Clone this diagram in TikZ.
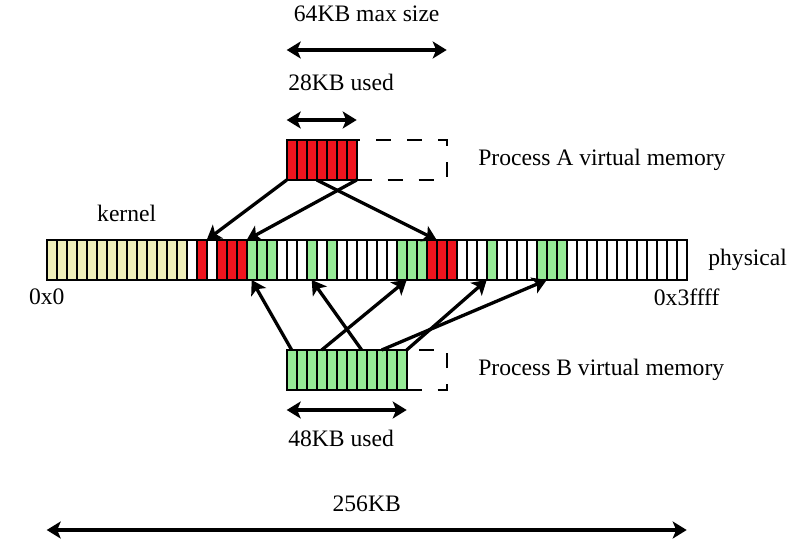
\documentclass[tikz,border=0pt]{standalone}
\usepackage{fontspec}
\setmainfont{Liberation Serif}
\usetikzlibrary{positioning,arrows.meta}
\definecolor{kernelyellow}{RGB}{240,240,185}
\definecolor{pagered}{RGB}{240,20,30}
\definecolor{pagegreen}{RGB}{150,235,150}

\begin{document}
\begin{tikzpicture}[x=1pt, y=-1pt, line width=3.3pt, >={Stealth[length=14pt,width=17pt,inset=3.5pt]},
    cell/.style={draw, line width=2.2pt, minimum width=10pt, minimum height=40pt, inner sep=0pt, outer sep=0pt, fill=white},
    freecell/.style={draw, line width=2.2pt, dash pattern=on 15pt off 16pt, minimum height=40pt, inner sep=0pt, outer sep=0pt},
    lbl/.style={inner sep=0pt, font=\fontsize{23.6}{28}\selectfont}]
    \useasboundingbox (0,0) rectangle (798,556);

    % physical memory: 64 pages of 4KB
    \foreach \i in {0,...,63}
        \node[cell] (p\i) at ({51.7+10*\i},260) {};
    \foreach \pages/\col in {{0,...,13}/kernelyellow, {15,17,18,19,38,39,40}/pagered, {20,21,22,26,28,35,36,37,44,49,50,51}/pagegreen}
        \foreach \i in \pages
            \draw[line width=2.2pt, fill=\col] (p\i.north west) rectangle (p\i.south east);

    % process A
    \node[cell, fill=pagered, above=60pt of p24] (a0) {};
    \foreach \i [remember=\i as \j (initially 0)] in {1,...,6}
        \node[cell, fill=pagered, right=0pt of a\j] (a\i) {};
    \node[freecell, minimum width=90pt, right=0pt of a6] (afree) {};

    % process B
    \node[cell, fill=pagegreen, below=70pt of p24] (b0) {};
    \foreach \i [remember=\i as \j (initially 0)] in {1,...,11}
        \node[cell, fill=pagegreen, right=0pt of b\j] (b\i) {};
    \node[freecell, minimum width=40pt, right=0pt of b11] (bfree) {};

    \node[lbl, right=30pt of afree] (procA) {Process A virtual memory};
    \node[lbl, right=30pt of bfree] (procB) {Process B virtual memory};
    \node[lbl, above=17pt of p7.north east] (kernel) {kernel};
    \node[lbl, right=20pt of p63] (physical) {physical};
    \node[lbl, below=7pt of p0.south west] (firstaddr) {0x0};
    \node[lbl, below=7pt of p63.south east] (lastaddr) {0x3ffff};

    % sizes
    \coordinate (maxL) at ([yshift=90pt]a0.north west);
    \coordinate (maxR) at ([yshift=90pt]afree.north east);
    \draw[<->] (maxL) -- node[lbl, above=27pt] (maxsize) {64KB max size} (maxR);

    \coordinate (usedAl) at ([yshift=20pt]a0.north west);
    \coordinate (usedAr) at ([yshift=20pt]a6.north east);
    \draw[<->] (usedAl) -- (usedAr);
    \node[lbl, above right=28pt and 0pt of usedAl] (usedA) {28KB used};

    \coordinate (usedBl) at ([yshift=-20pt]b0.south west);
    \coordinate (usedBr) at ([yshift=-20pt]b11.south east);
    \draw[<->] (usedBl) -- (usedBr);
    \node[lbl, below right=18pt and 0pt of usedBl] (usedB) {48KB used};

    \coordinate (totalL) at ([yshift=-250pt]p0.south west);
    \coordinate (totalR) at ([yshift=-250pt]p63.south east);
    \draw[<->] (totalL) -- node[lbl, above=17pt] (total) {256KB} (totalR);

    % page mappings
    \draw[->] (a0.south west) -- (p15.north east);
    \draw[->] (a6.south east) -- (p19.north east);
    \draw[->] (a3.south west) -- (p38.north east);
    \draw[->] (b0.north) -- (p20.south);
    \draw[->] (b7.north) -- (p26.south);
    \draw[->] (b3.north) -- (p36.south west);
    \draw[->] (b9.north) -- (p50.south west);
    \draw[->] (b11.north east) -- (p44.south west);
\end{tikzpicture}
\end{document}
